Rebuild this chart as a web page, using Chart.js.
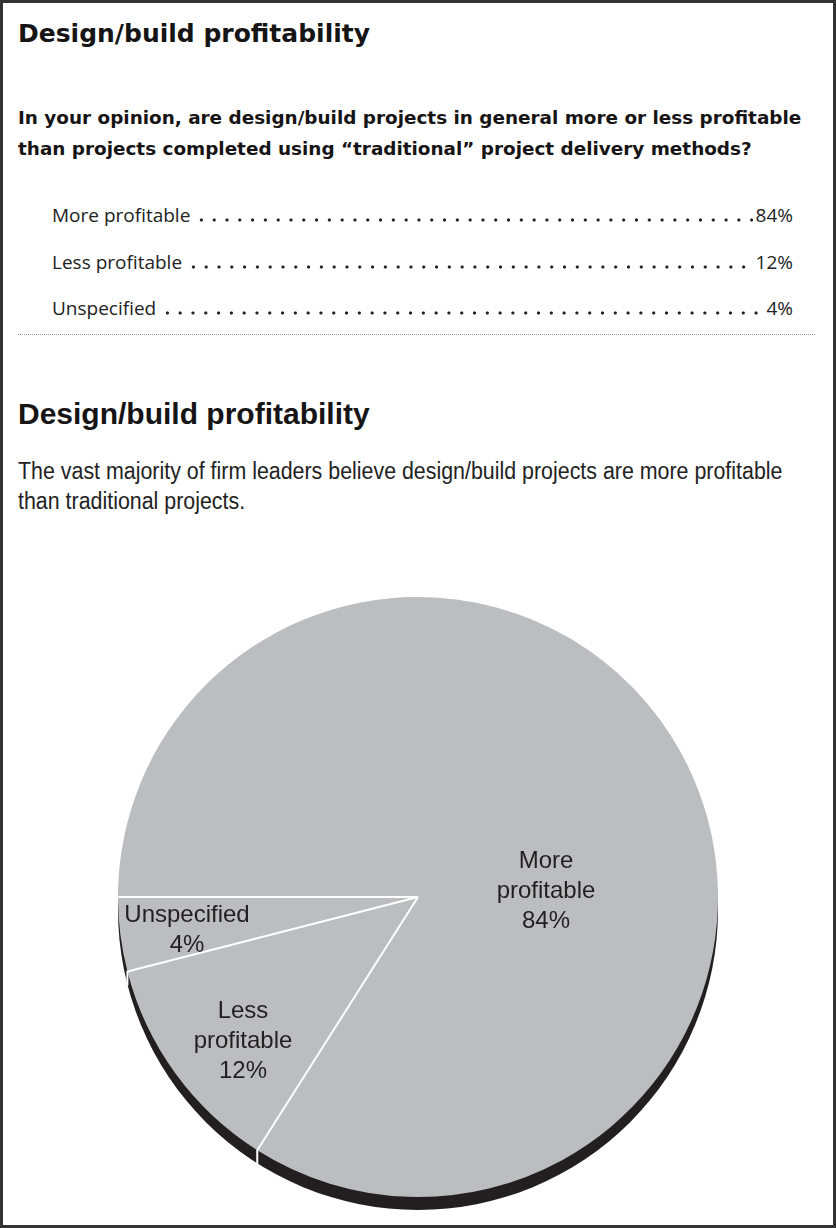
<!DOCTYPE html>
<html>
<head>
<meta charset="utf-8">
<title>Design/build profitability</title>
<script src="https://cdn.jsdelivr.net/npm/chart.js@4.4.0/dist/chart.umd.min.js"></script>
<style>
    html, body { margin: 0; padding: 0; background: #fff; }
    #page {
        position: relative;
        width: 836px;
        height: 1228px;
        box-sizing: border-box;
        border: 3px solid #333;
        overflow: hidden;
        color: #161415;
    }
    .abs { position: absolute; white-space: nowrap; }
    #title1 { left: 15px; top: 16px; font: bold 25px/29px 'DejaVu Sans', sans-serif; }
    #question { left: 15px; top: 99px; font: bold 18.4px/31px 'DejaVu Sans', sans-serif; }
    #answers { left: 49px; top: 199px; width: 741px; font: 19px/26px 'Open Sans', sans-serif; color: #222; }
    .row { display: flex; align-items: baseline; height: 46.5px; }
    .leader {
        flex: 1;
        height: 4px;
        margin: 0 3px 0 5px;
        background-image: radial-gradient(circle, #222 0, #222 1.3px, transparent 1.9px);
        background-size: 12.8px 4px;
        background-repeat: repeat-x;
    }
    #rule { left: 15px; top: 331px; width: 797px; border-top: 1px dotted #999; }
    #title2 { left: 15px; top: 394px; font: bold 30px/34px 'Liberation Sans', Arial, sans-serif; }
    #subtitle {
        left: 15px; top: 453px;
        font: 23px/30px 'Liberation Sans', Arial, sans-serif;
        color: #222;
        transform: scaleX(0.93);
        transform-origin: left top;
    }
    #pieWrap { position: absolute; left: 115px; top: 594px; width: 600px; height: 616px; }
</style>
</head>
<body>
<div id="page">
    <div class="abs" id="title1">Design/build profitability</div>
    <div class="abs" id="question">In your opinion, are design/build projects in general more or less profitable<br>than projects completed using “traditional” project delivery methods?</div>
    <div class="abs" id="answers"></div>
    <div class="abs" id="rule"></div>
    <div class="abs" id="title2">Design/build profitability</div>
    <div class="abs" id="subtitle">The vast majority of firm leaders believe design/build projects are more profitable<br>than traditional projects.</div>
    <div id="pieWrap"><canvas id="pieChart" width="600" height="616"></canvas></div>
</div>

<script>
// Survey answers
const categories = ['More profitable', 'Less profitable', 'Unspecified'];
const shares = [84, 12, 4];

// Label placement inside the pie, relative to the pie centre (layout only)
const labelOffsets = [[128, -29], [-175, 121], [-231, 25]];

const sliceGrey = '#bcbdc0';
const shadowColor = '#231f20';
const shadowDrop = 13;

// Fill the answer list from the same data
const answers = document.getElementById('answers');
categories.forEach((cat, i) => {
    const row = document.createElement('div');
    row.className = 'row';
    row.innerHTML = '<span>' + cat + '</span><span class="leader"></span><span>' + shares[i] + '%</span>';
    answers.appendChild(row);
});

// Dark drop under the pie, then white separators and labels on top
const pieDecor = {
    id: 'pieDecor',
    beforeDatasetsDraw(chart) {
        const arcs = chart.getDatasetMeta(0).data;
        if (!arcs.length) return;
        const { x, y, outerRadius } = arcs[0];
        const ctx = chart.ctx;
        ctx.save();
        ctx.fillStyle = shadowColor;
        ctx.beginPath();
        ctx.arc(x, y + shadowDrop, outerRadius, 0, Math.PI * 2);
        ctx.fill();
        ctx.restore();
    },
    afterDatasetsDraw(chart) {
        const arcs = chart.getDatasetMeta(0).data;
        const ctx = chart.ctx;
        ctx.save();
        ctx.strokeStyle = '#ffffff';
        ctx.lineWidth = 2;
        arcs.forEach(arc => {
            const a = arc.startAngle;
            const ex = arc.x + Math.cos(a) * arc.outerRadius;
            const ey = arc.y + Math.sin(a) * arc.outerRadius;
            ctx.beginPath();
            ctx.moveTo(arc.x, arc.y);
            ctx.lineTo(ex, ey);
            // carry the cut through the visible edge of the drop
            if (Math.sin(a) > 0.2) ctx.lineTo(ex, ey + shadowDrop + 1);
            ctx.stroke();
        });

        ctx.fillStyle = '#231f20';
        ctx.font = '24px "Liberation Sans", Arial, sans-serif';
        ctx.textAlign = 'center';
        ctx.textBaseline = 'alphabetic';
        arcs.forEach((arc, i) => {
            const lines = categories[i].split(' ').concat(shares[i] + '%');
            const [dx, dy] = labelOffsets[i];
            lines.forEach((t, k) => ctx.fillText(t, arc.x + dx, arc.y + dy + k * 30));
        });
        ctx.restore();
    }
};

new Chart(document.getElementById('pieChart').getContext('2d'), {
    type: 'pie',
    data: {
        labels: categories,
        datasets: [{
            data: shares,
            backgroundColor: sliceGrey,
            borderWidth: 0
        }]
    },
    options: {
        responsive: false,
        animation: false,
        rotation: 270,
        layout: { padding: { bottom: 16 } },
        plugins: {
            legend: { display: false },
            tooltip: { enabled: false }
        }
    },
    plugins: [pieDecor]
});
</script>
</body>
</html>
